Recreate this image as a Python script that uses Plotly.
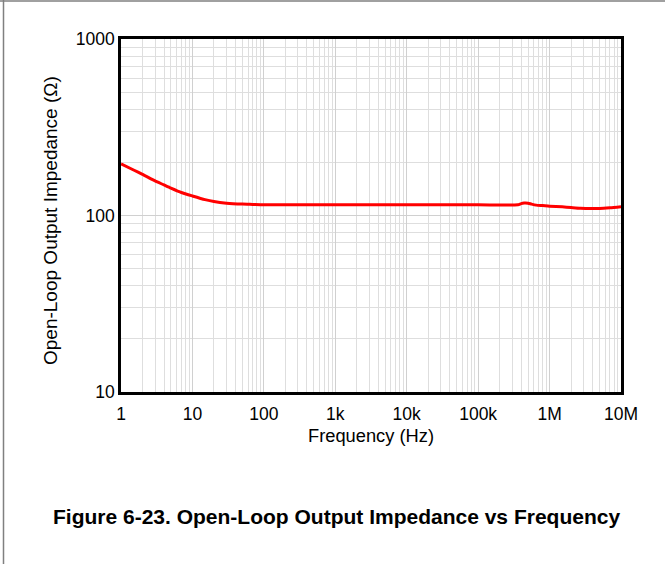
import plotly.graph_objects as go

freq_hz = [1, 1.5, 2, 3, 4, 5, 7, 10, 15, 20, 30, 50, 70, 100, 300, 1e3, 1e4, 1e5,
           3.6e5, 4e5, 4.4e5, 5e5, 5.6e5, 6.5e5, 8e5, 1e6, 1.5e6, 2e6, 2.7e6, 4e6, 5e6, 7e6, 1e7]
impedance_ohm = [196, 181, 171, 157, 149, 143, 135, 129, 123, 120, 117.5, 116, 115.5, 115, 115, 115, 115, 115,
                 115, 116.8, 117.6, 117.4, 116, 114.5, 113.8, 113, 112, 111, 110, 109.5, 109.5, 110.5, 112]

x_tickvals = [1, 10, 100, 1e3, 1e4, 1e5, 1e6, 1e7]
x_ticktext = ["1", "10", "100", "1k", "10k", "100k", "1M", "10M"]
y_tickvals = [10, 100, 1000]
y_ticktext = ["10", "100", "1000"]

x_minor = [m * 10 ** d for d in range(0, 7) for m in range(2, 10)]
y_minor = [m * 10 ** d for d in range(1, 3) for m in range(2, 10)]

FONT = "Liberation Sans, Arial, sans-serif"

fig = go.Figure()
fig.add_trace(go.Scatter(x=freq_hz, y=impedance_ohm, mode="lines",
                         line=dict(color="#ff0000", width=3, shape="spline", smoothing=0.6),
                         hoverinfo="x+y"))

W, H = 665, 564
L, R, T, B = 121, 44, 39, 172
pw, ph = W - L - R, H - T - B

fig.update_layout(
    width=W, height=H,
    margin=dict(l=L, r=R, t=T, b=B, autoexpand=False),
    paper_bgcolor="white", plot_bgcolor="white",
    showlegend=False,
    font=dict(family=FONT, size=17.5, color="black"),
    xaxis=dict(type="log", range=[0, 7], tickmode="array", tickvals=x_tickvals, ticktext=x_ticktext,
               showgrid=True, gridcolor="#d0d0d0", gridwidth=1,
               minor=dict(tickmode="array", tickvals=x_minor, showgrid=True, gridcolor="#dedede", gridwidth=1),
               showline=True, linecolor="black", linewidth=2.5, mirror=True, ticks="",
               ticklabelstandoff=4,
               zeroline=False,
               title=dict(text="Frequency (Hz)", font=dict(size=18.3), standoff=7),
               tickfont=dict(size=17.5)),
    yaxis=dict(type="log", range=[1, 3], tickmode="array", tickvals=y_tickvals, ticktext=y_ticktext,
               showgrid=True, gridcolor="#d0d0d0", gridwidth=1,
               minor=dict(tickmode="array", tickvals=y_minor, showgrid=True, gridcolor="#dedede", gridwidth=1),
               showline=True, linecolor="black", linewidth=2.5, mirror=True, ticks="",
               zeroline=False,
               tickfont=dict(size=17.5)),
)

# Y axis title (placed to match the reference centre)
fig.add_annotation(text="Open-Loop Output Impedance (Ω)",
                   xref="paper", yref="paper",
                   x=(50 - L) / pw, y=(H - B - 221) / ph,
                   xanchor="center", yanchor="middle", textangle=-90, showarrow=False,
                   font=dict(family=FONT, size=19, color="black"))

# Figure caption
fig.add_annotation(text="<b>Figure 6-23. Open-Loop Output Impedance vs Frequency</b>",
                   xref="paper", yref="paper",
                   x=(336 - L) / pw, y=(H - B - 516) / ph,
                   xanchor="center", yanchor="middle", showarrow=False,
                   font=dict(family=FONT, size=21, color="black"))

# Page frame lines (top and left)
fig.add_shape(type="line", xref="paper", yref="paper",
              x0=(0 - L) / pw, x1=(W - L) / pw, y0=(H - B - 1) / ph, y1=(H - B - 1) / ph,
              line=dict(color="#808080", width=1.5))
fig.add_shape(type="line", xref="paper", yref="paper",
              x0=(3.5 - L) / pw, x1=(3.5 - L) / pw, y0=(H - B - 0) / ph, y1=(H - B - H) / ph,
              line=dict(color="#808080", width=1.5))

fig.write_html("out.html", config={"displayModeBar": False},
               post_script="document.body.style.margin='0';document.body.style.overflow='hidden';")
